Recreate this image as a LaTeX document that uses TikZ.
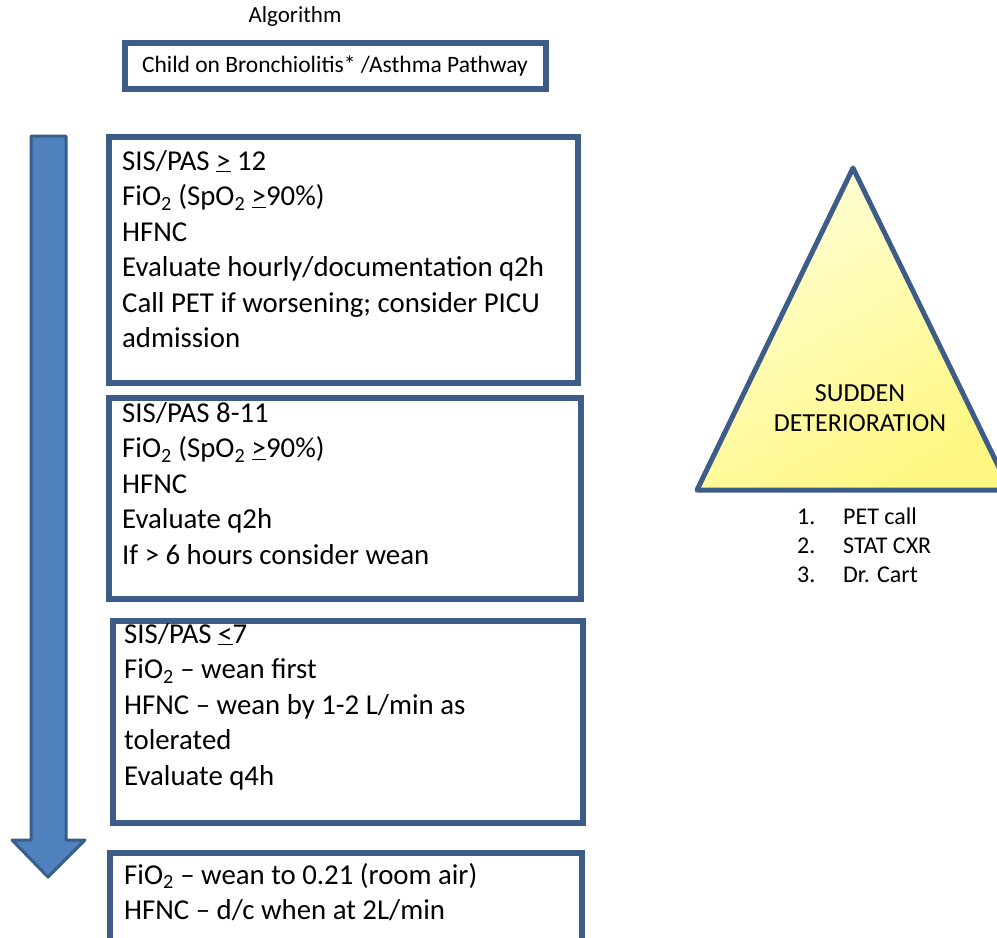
\documentclass[tikz,border=0pt]{standalone}
\usepackage{fontspec}
\setmainfont{Carlito}
\usetikzlibrary{positioning}
\definecolor{boxline}{RGB}{62,92,136}
\definecolor{arrowfill}{RGB}{79,129,189}
\definecolor{arrowline}{RGB}{56,93,138}
\definecolor{warnlight}{RGB}{255,255,214}
\definecolor{warndark}{RGB}{255,247,130}
\tikzset{
  stagebox/.style={draw=boxline, line width=6pt, fill=white, inner sep=0pt, anchor=north west},
  % anchor base = baseline of the last line
  stagetext/.style={align=left, anchor=base west, inner sep=0pt, font=\fontsize{28.8}{35.5}\selectfont},
  listtext/.style={anchor=base west, inner sep=0pt, font=\fontsize{24}{29}\selectfont},
}
\newcommand{\fio}{FiO\textsubscript{2}}
\begin{document}
\begin{tikzpicture}[x=1pt, y=-1pt]
  \useasboundingbox (0,0) rectangle (997,938);
  % header
  \node[font=\fontsize{23}{27}\selectfont] (algo) at (295,16) {Algorithm};
  \node[stagebox, minimum width=421pt, minimum height=46pt] (title) at (121.5,40) {};
  \node[font=\fontsize{23.5}{27}\selectfont] (titletext) at (title.center) {Child on Bronchiolitis* /Asthma Pathway};
  % severity arrow
  \draw[fill=arrowfill, draw=arrowline, line width=3pt, line join=round]
    (31,136) -- (66,136) -- (66,840) -- (85,840) -- (48,877) -- (12,840) -- (31,840) -- cycle;
  % stage boxes
  \node[stagebox, minimum width=469pt, minimum height=246pt] (s1) at (106,134) {};
  \node[stagebox, minimum width=472pt, minimum height=201pt] (s2) at (106,394.5) {};
  \node[stagebox, minimum width=470pt, minimum height=202pt] (s3) at (110,618) {};
  \node[stagebox, minimum width=471.5pt, minimum height=100pt] (s4) at (107,850) {};
  \node[stagetext] (s1text) at (122,347.5) {SIS/PAS \underline{>} 12\\
    \fio{} (SpO\textsubscript{2} \underline{>}90\%)\\
    HFNC\\
    Evaluate hourly/documentation q2h\\
    Call PET if worsening; consider PICU\\
    admission};
  \node[stagetext] (s2text) at (122,564) {SIS/PAS 8-11\\
    \fio{} (SpO\textsubscript{2} \underline{>}90\%)\\
    HFNC\\
    Evaluate q2h\\
    If > 6 hours consider wean};
  \node[stagetext] (s3text) at (124,785) {SIS/PAS \underline{<}7\\
    \fio{} -- wean first\\
    HFNC -- wean by 1-2 L/min as\\
    tolerated\\
    Evaluate q4h};
  \node[stagetext] (s4text) at (124,919.5) {\fio{} -- wean to 0.21 (room air)\\
    HFNC -- d/c when at 2L/min};
  % sudden deterioration
  \draw[draw=boxline, line width=5pt, line join=round, shading=axis, top color=warnlight, bottom color=warndark, shading angle=30]
    (853,168) -- (1010,490) -- (697,490) -- cycle;
  \node[align=center, font=\fontsize{26}{30}\selectfont] (sudden) at (860,408) {SUDDEN\\DETERIORATION};
  \foreach \i/\txt in {1/PET call, 2/STAT CXR, 3/Dr. Cart} {
    \node[listtext] (num\i) at (797,495+29*\i) {\i.};
    \node[listtext] (item\i) at (843,495+29*\i) {\txt};
  }
\end{tikzpicture}
\end{document}
